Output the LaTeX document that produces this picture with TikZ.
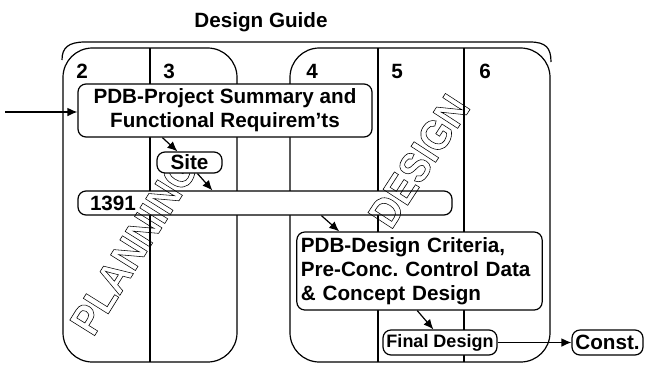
\documentclass[tikz,border=0pt]{standalone}
\usepackage{fontspec}
\setmainfont{Liberation Sans}
\usetikzlibrary{arrows.meta}
\newcommand{\hollow}[1]{\scalebox{0.9}[1]{\special{pdf:code 1 Tr 0.45 w}#1\special{pdf:code 0 Tr}}}

\begin{document}
\begin{tikzpicture}[x=0.75pt, y=-0.75pt, line width=0.9pt,
    lab/.style={font=\bfseries\fontsize{15.5}{18}\selectfont},
    box/.style={draw, fill=white, rounded corners=6pt, inner sep=0pt, lab},
    arr/.style={-{Latex[length=7.5pt,width=6.5pt]}},
    ghost/.style={font=\bfseries\fontsize{32}{34}\selectfont, inner sep=0pt}]
    \useasboundingbox (0,0) rectangle (649,365);
    % heading and the bracket over both phases
    \node[lab] (guide) at (261,22) {Design Guide};
    \draw (62,60) .. controls (62,48) and (68,42) .. (85,42) -- (530,42) .. controls (546,42) and (551,48) .. (551,62);
    % phase columns
    \draw[rounded corners=22pt] (63,48) rectangle (237,362);
    \draw[rounded corners=22pt] (290,48) rectangle (550,362);
    \draw (150,48) -- (150,362);
    \draw (378,48) -- (378,362);
    \draw (464,48) -- (464,362);
    \foreach \x/\n in {82/2,169/3,312/4,397/5,485/6}
      \node[lab] (col\n) at (\x,71) {\n};
    % form 1391 bar
    \node[box, text width=262.5pt, inner xsep=9pt, minimum height=18pt, align=left] (form) at (265,203) {1391};
    % big hollow phase names
    \node[ghost, rotate=58] (plan) at (134,245) {\hollow{PLANNING}};
    \node[ghost, rotate=57] (des) at (419,161) {\hollow{DESIGN}};
    % documents
    \node[box, minimum width=220.5pt, minimum height=39.75pt, align=center] (proj) at (225,110.5) {PDB-Project Summary and\\Functional Requirem’ts};
    \node[box, minimum width=48.75pt, minimum height=15.75pt] (site) at (189.5,162.5) {Site};
    \node[box, text width=178pt, inner xsep=3pt, minimum height=58.5pt, align=left] (crit) at (419.5,271) {PDB-Design Criteria,\\Pre-Conc.\ Control Data\\\& Concept Design};
    \node[box, minimum width=85.5pt, minimum height=18.75pt, font=\bfseries\fontsize{13.5}{16}\selectfont] (final) at (440,342.5) {Final Design};
    \node[box, minimum width=53.25pt, minimum height=18.75pt] (const) at (607.5,342.5) {Const.};
    % flow
    \coordinate (in) at (5,112);
    \draw[arr] (in) -- (in -| proj.west);
    \draw[arr] ([xshift=63.75pt]proj.south west) -- ([xshift=15.75pt]site.north west);
    \draw[arr] ([xshift=6pt]site.south) -- ([xshift=101.25pt]form.north west);
    \draw[arr] ([xshift=183pt]form.south west) -- ([xshift=32.25pt]crit.north west);
    \draw[arr] ([xshift=90.75pt]crit.south west) -- ([xshift=38.25pt]final.north west);
    \draw[arr] (final) -- (const);
\end{tikzpicture}
\end{document}
